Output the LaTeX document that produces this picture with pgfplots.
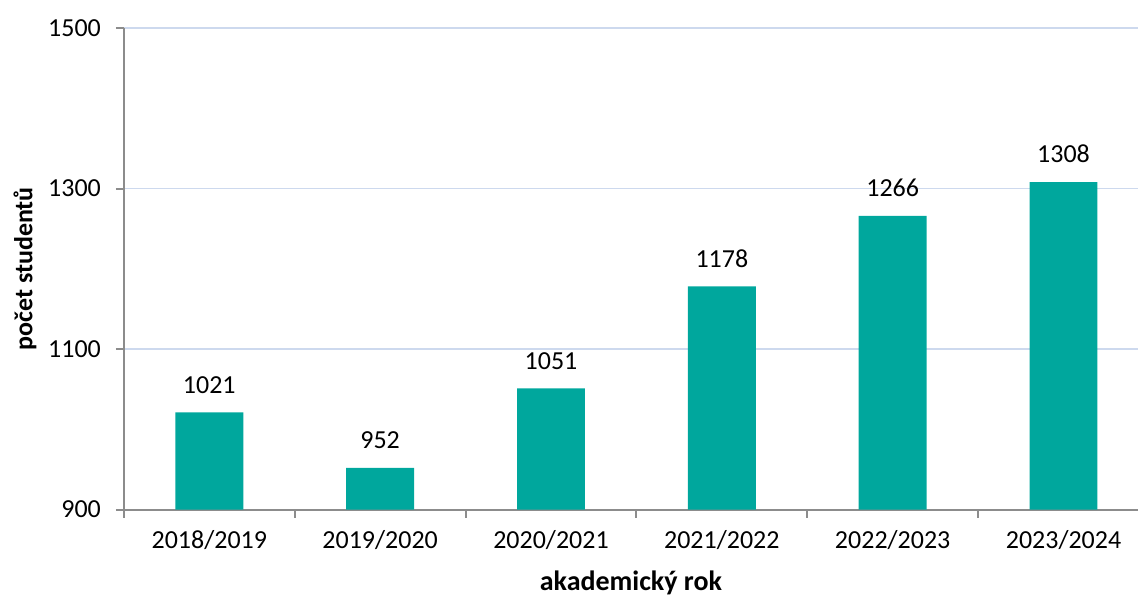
\documentclass[border=0pt]{standalone}
\usepackage{pgfplots}
\pgfplotsset{compat=1.18}
\usepackage{fontspec}
\setmainfont{Carlito}
\definecolor{barteal}{HTML}{00A79D}
\definecolor{gridblue}{HTML}{CDD9EE}
\definecolor{axisgray}{HTML}{8C8C8C}
\begin{document}
\begin{tikzpicture}
\begin{axis}[
  scale only axis,
  width=507.5pt, height=241pt,
  ymin=900, ymax=1500,
  ytick={900,1100,1300,1500},
  xmin=-0.5, xmax=5.436,
  xtick={0,...,5},
  xticklabels={2018/2019,2019/2020,2020/2021,2021/2022,2022/2023,2023/2024},
  major x tick style={draw=none},
  minor xtick={-0.5,0.5,...,4.5},
  minor x tick style={axisgray, line width=1pt},
  minor tick length=4pt,
  major tick length=4pt,
  tick align=outside,
  ytick style={axisgray, line width=1pt},
  axis x line*=bottom, axis y line*=left,
  axis line style={axisgray, line width=1pt, -},
  ymajorgrids, grid style={gridblue, line width=0.8pt},
  font=\fontsize{13}{15}\selectfont,
  ticklabel style={font=\fontsize{13}{15}\selectfont},
  /pgf/number format/assume math mode=true,
  /pgf/number format/1000 sep={},
  xlabel={\textbf{akademický rok}},
  ylabel={\textbf{počet studentů}},
  xlabel style={yshift=-3.5pt, font=\fontsize{14}{16}\selectfont},
  ylabel style={yshift=-1pt},
  xticklabel style={yshift=-3pt},
  yticklabel style={xshift=-4pt},
  ybar, bar width=34pt,
  nodes near coords,
  nodes near coords style={font=\fontsize{13}{15}\selectfont, yshift=6pt, /pgf/number format/1000 sep={}},
]
\addplot[fill=barteal, draw=none, bar shift=0pt] coordinates {
  (0,1021) (1,952) (2,1051) (3,1178) (4,1266) (5,1308)
};
\end{axis}
\path (current axis.south west) ++(-62pt,-43.5pt) coordinate (bbA);
\path (current axis.north east) ++(0pt,14pt) coordinate (bbB);
\useasboundingbox (bbA) rectangle (bbB);
\end{tikzpicture}
\end{document}
